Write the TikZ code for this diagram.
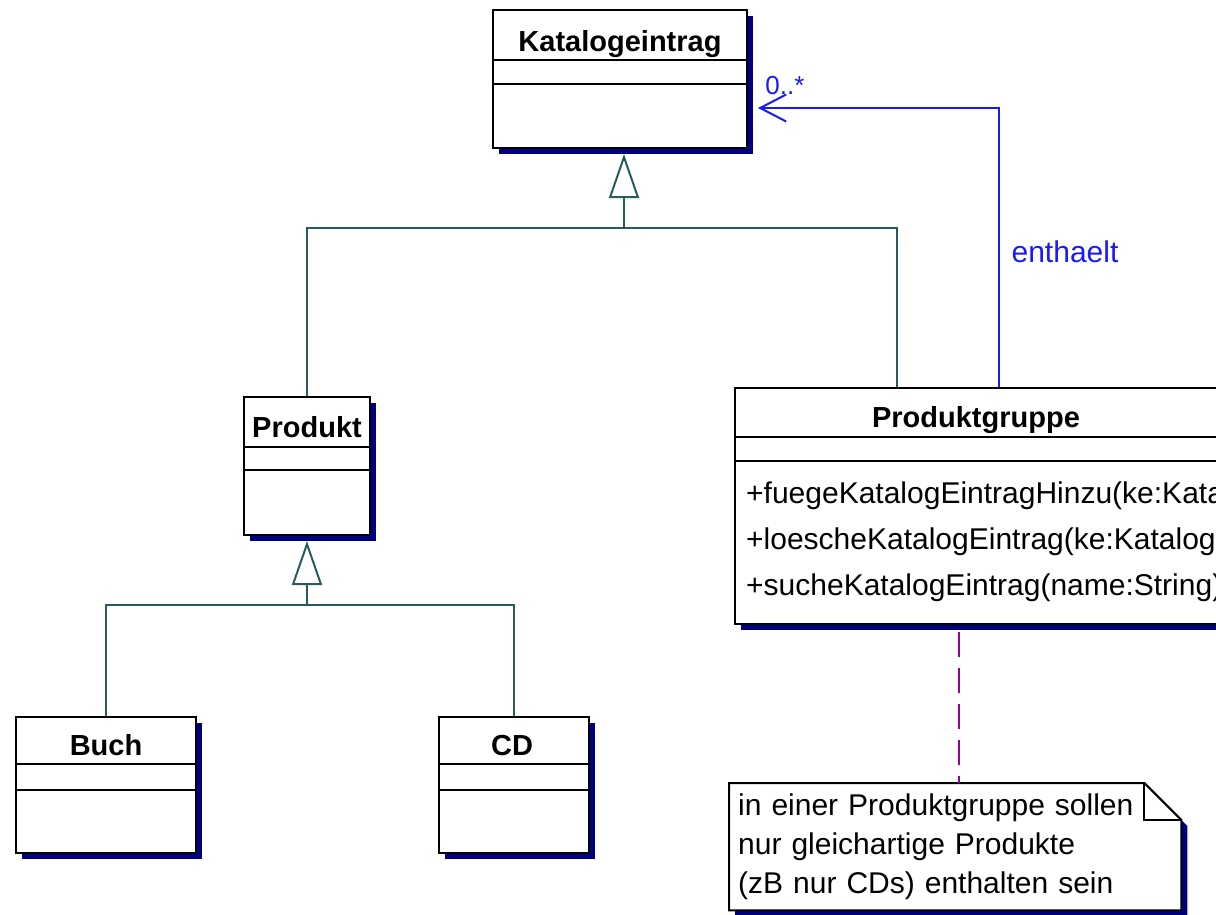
\documentclass[tikz,border=0pt]{standalone}
\usepackage{fontspec}
\setmainfont{Liberation Sans}
\usetikzlibrary{arrows.meta,shadows,backgrounds,calc}

\definecolor{umlshadow}{RGB}{0,0,128}
\definecolor{genteal}{RGB}{40,92,92}
\definecolor{assocblue}{RGB}{25,25,255}
\definecolor{notepurple}{RGB}{150,0,150}

\tikzset{
  classbox/.style={draw=black, line width=2pt, fill=white, inner sep=0pt,
    general shadow={fill=umlshadow, shadow xshift=6pt, shadow yshift=-6pt}},
  classname/.style={font=\fontsize{29}{34}\selectfont\bfseries, inner sep=0pt, anchor=base},
  optext/.style={font=\fontsize{30}{36}\selectfont, inner sep=0pt, anchor=base west},
  divider/.style={draw=black, line width=2pt},
  genline/.style={draw=genteal, line width=2pt},
  geninherit/.style={genline, -{Triangle[open, length=44pt, width=30pt]}},
  assocline/.style={draw=assocblue, line width=2pt},
  assoctext/.style={text=assocblue, font=\fontsize{30}{36}\selectfont, inner sep=0pt},
  notetext/.style={font=\fontsize{30}{39}\selectfont, align=left, inner ysep=0pt},
  noteshape/.style={draw=black, line width=2pt, fill=white,
    general shadow={fill=umlshadow, shadow xshift=6pt, shadow yshift=-6pt}},
  notelink/.style={draw=notepurple, line width=2pt, dash pattern=on 25pt off 11pt},
}

\begin{document}
\begin{tikzpicture}[x=1pt, y=-1pt]
\path[use as bounding box, clip] (0,0) rectangle (1216,915);

% classes
\node[classbox, minimum width=254pt, minimum height=138pt] (kat) at (620,79) {};
\node[classname] (katname) at (620,52) {Katalogeintrag};
\draw[divider] (kat.west |- 0,60) -- (kat.east |- 0,60);
\draw[divider] (kat.west |- 0,84) -- (kat.east |- 0,84);

\node[classbox, minimum width=126pt, minimum height=138pt] (prod) at (307,466) {};
\node[classname] (prodname) at (307,437) {Produkt};
\draw[divider] (prod.west |- 0,447) -- (prod.east |- 0,447);
\draw[divider] (prod.west |- 0,470) -- (prod.east |- 0,470);

\node[classbox, minimum width=180pt, minimum height=136pt] (buch) at (106,785) {};
\node[classname] (buchname) at (106,755) {Buch};
\draw[divider] (buch.west |- 0,764) -- (buch.east |- 0,764);
\draw[divider] (buch.west |- 0,790) -- (buch.east |- 0,790);

\node[classbox, minimum width=150pt, minimum height=136pt] (cd) at (514,785) {};
\node[classname] (cdname) at (512,755) {CD};
\draw[divider] (cd.west |- 0,764) -- (cd.east |- 0,764);
\draw[divider] (cd.west |- 0,790) -- (cd.east |- 0,790);

\node[classbox, minimum width=482pt, minimum height=236pt] (grp) at (976,506) {};
\node[classname] (grpname) at (976,427) {Produktgruppe};
\draw[divider] (grp.west |- 0,437) -- (grp.east |- 0,437);
\draw[divider] (grp.west |- 0,461) -- (grp.east |- 0,461);
\node[optext] (op1) at (746,503) {+fuegeKatalogEintragHinzu(ke:Katalogeintrag)};
\node[optext] (op2) at (746,549) {+loescheKatalogEintrag(ke:Katalogeintrag)};
\node[optext] (op3) at (746,595) {+sucheKatalogEintrag(name:String)};

% generalisation
\coordinate (katfork) at (624,228);
\draw[genline] (prod.north) |- (katfork) -| ([xshift=163pt]grp.north west);
\draw[geninherit] (katfork) -- ($(kat.south -| katfork)+(0,5)$);

\coordinate (prodfork) at (307,605);
\draw[genline] (buch.north) |- (prodfork) -| (cd.north);
\draw[geninherit] (prodfork) -- ($(prod.south)+(0,5)$);

% association
\coordinate (katin) at ($(kat.east)+(10,29)$);
\draw[assocline, -{Straight Barb[length=26pt, width=27pt]}] ([xshift=265pt]grp.north west) |- (katin);
\node[assoctext, font=\fontsize{26}{30}\selectfont] (mult) at (785,86) {0..*};
\node[assoctext] (rolename) at (1065,252) {enthaelt};

% note
\node[notetext, anchor=north west, minimum width=452pt, minimum height=127pt,
  text width=434pt, inner xsep=9pt] (note) at (729,783)
  {in einer Produktgruppe sollen\\nur gleichartige Produkte\\(zB nur CDs) enthalten sein};
\begin{scope}[on background layer]
\draw[noteshape] (note.south west) -- (note.north west) -- ([xshift=-37pt]note.north east)
  -- ([yshift=-37pt]note.north east) -- (note.south east) -- cycle;
\draw[divider] ([xshift=-37pt]note.north east) |- ([yshift=-37pt]note.north east);
\end{scope}
\draw[notelink] ($(note.north |- grp.south)+(4,7)$) -- ($(note.north)+(4,0)$);

\end{tikzpicture}
\end{document}
